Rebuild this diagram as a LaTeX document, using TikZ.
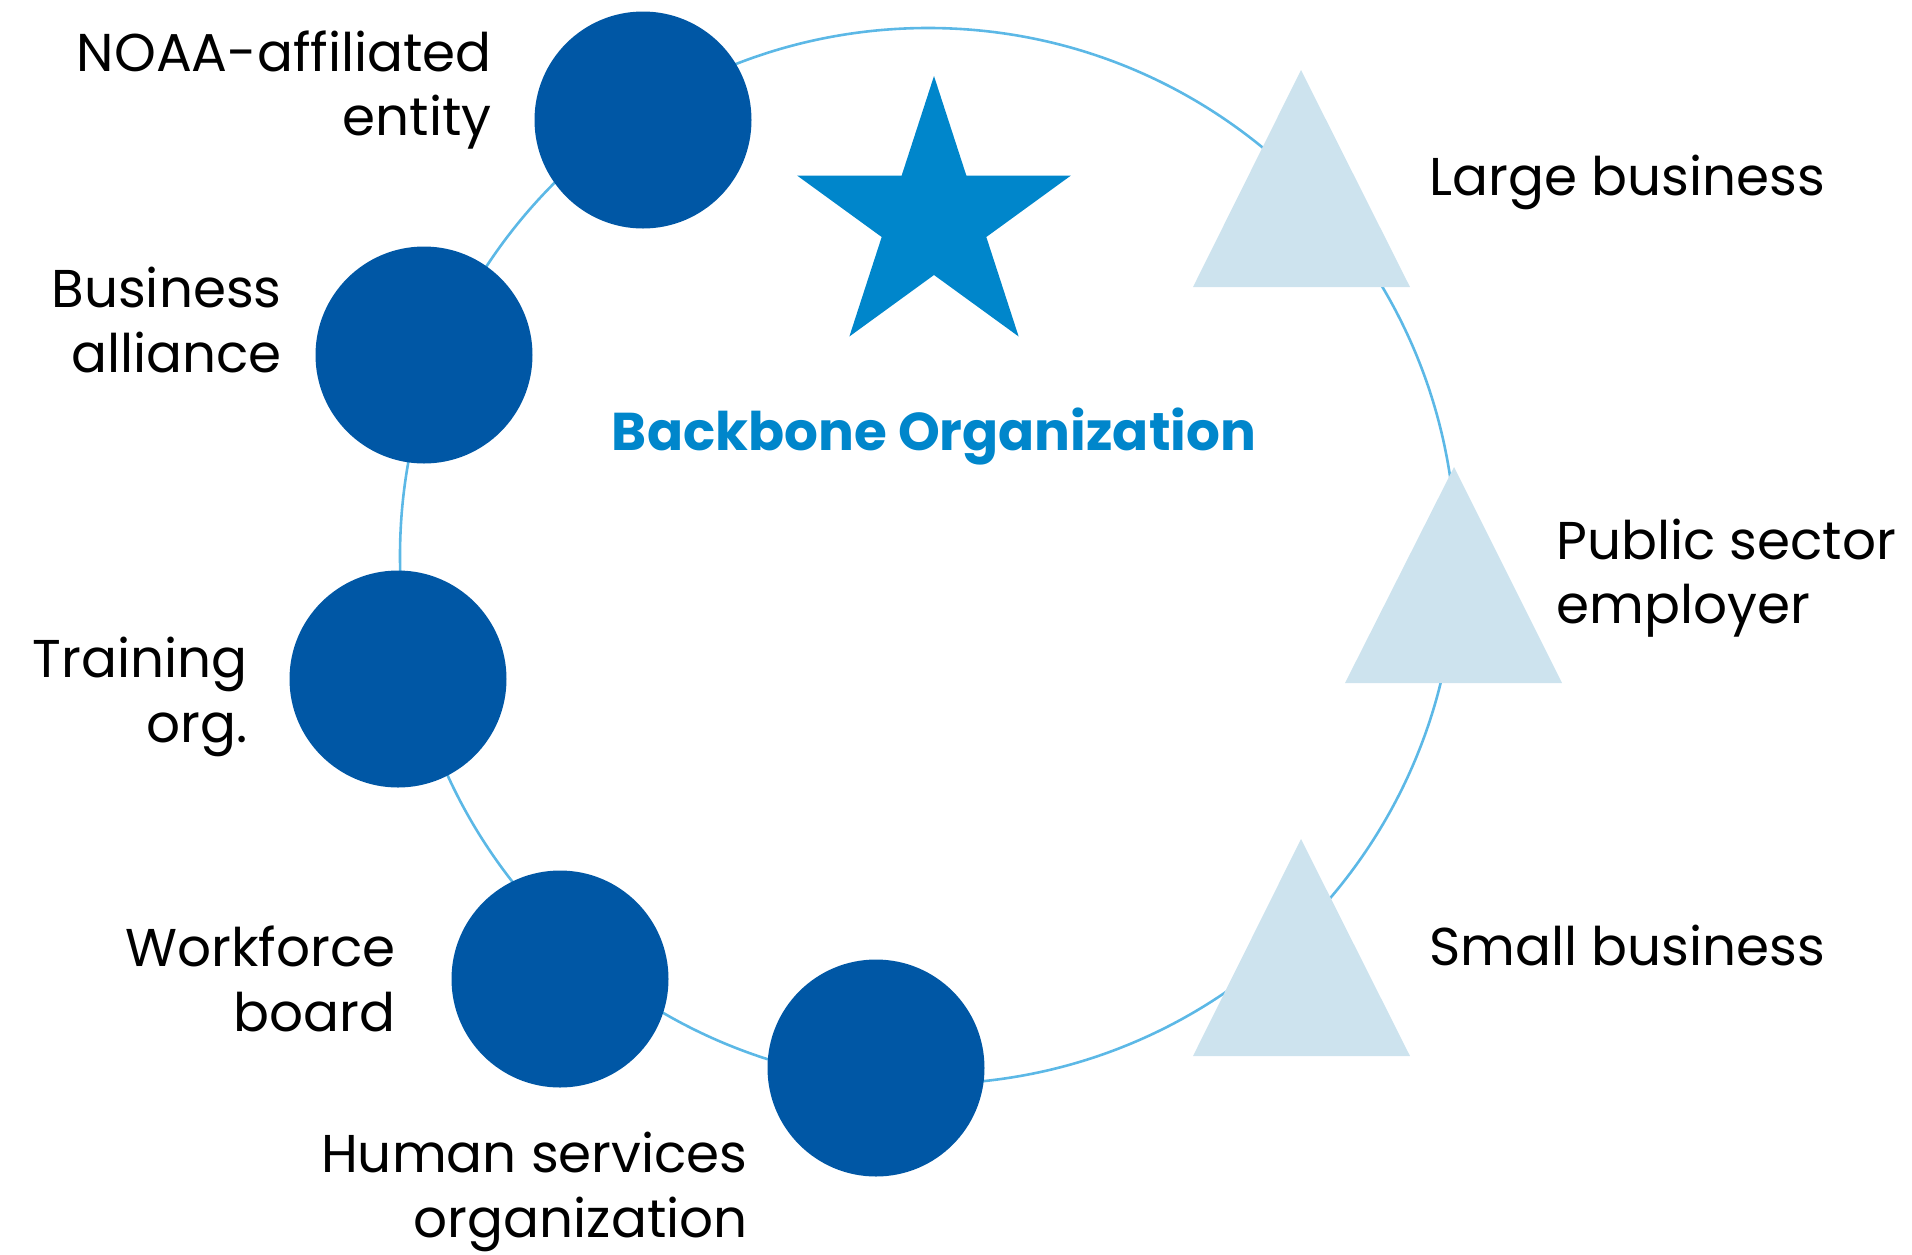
\documentclass[tikz,border=0pt]{standalone}
\usepackage{fontspec}
\setmainfont{Poppins}
\usetikzlibrary{shapes.geometric}
\definecolor{navy}{HTML}{0057A5}
\definecolor{starblue}{HTML}{0086CB}
\definecolor{paleblue}{HTML}{CDE3EE}
\definecolor{ringblue}{HTML}{5CB8E6}
\begin{document}
\begin{tikzpicture}[x=0.5pt,y=-0.5pt,
    member/.style={circle,fill=navy,minimum size=108.5pt,inner sep=0pt},
    employer/.style={fill=paleblue},
    lbl/.style={font=\fontsize{26.6}{32.3}\selectfont,align=right,anchor=east,inner sep=0pt},
    rlbl/.style={font=\fontsize{26.6}{32.3}\selectfont,align=left,anchor=west,inner sep=0pt}]
  \useasboundingbox (0,0) rectangle (1912,1254);
  % the ring behind everything
  \draw[ringblue,line width=1.3pt] (928,556) circle (264pt);
  % backbone
  \node[star,star points=5,star point ratio=2.618,fill=starblue,minimum size=144pt,inner sep=0pt] (backbone) at (934,220) {};
  \node[font=\fontsize{26.6}{32}\selectfont\bfseries,text=starblue] (backbonelbl) at (934,436) {Backbone Organization};
  % members
  \node[member] (noaa) at (643,120) {};
  \node[member] (alliance) at (424,355) {};
  \node[member] (training) at (398,679) {};
  \node[member] (workforce) at (560,979) {};
  \node[member] (human) at (876,1068) {};
  \node[lbl] (noaalbl) at (492,90) {NOAA-affiliated\\entity};
  \node[lbl] (alliancelbl) at (282,320) {Business\\alliance};
  \node[lbl] (traininglbl) at (248,697) {Training\\org.};
  \node[lbl] (workforcelbl) at (396,979) {Workforce\\board};
  \node[lbl] (humanlbl) at (748,1192) {Human services\\organization};
  % employers
  \fill[employer] (1301,70) -- (1410,287) -- (1193,287) -- cycle;
  \fill[employer] (1454,467) -- (1562,683) -- (1345,683) -- cycle;
  \fill[employer] (1301,839) -- (1410,1056) -- (1193,1056) -- cycle;
  \node[rlbl] (largelbl) at (1429,182) {Large business};
  \node[rlbl] (publiclbl) at (1556,578) {Public sector\\employer};
  \node[rlbl] (smalllbl) at (1429,945) {Small business};
\end{tikzpicture}
\end{document}
